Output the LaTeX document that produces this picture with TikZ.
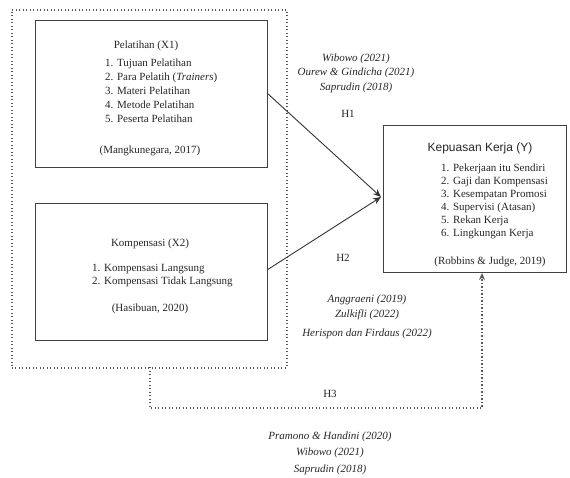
\documentclass[tikz,border=0pt]{standalone}
\usepackage{fontspec}
\setmainfont{Liberation Serif}
\newfontfamily\titlesans{Liberation Sans}
\usetikzlibrary{arrows.meta}
\begin{document}
\begin{tikzpicture}[x=1pt,y=-1pt,
  box/.style={draw=black!75, line width=1pt, inner sep=0pt},
  dotline/.style={draw=black!65, line width=1.5pt, dash pattern=on 1.2pt off 2.3pt},
  txt/.style={font=\fontsize{11}{13.5}\selectfont, inner sep=0pt, text=black!85},
  cite/.style={font=\fontsize{11}{13.5}\selectfont\itshape, inner sep=0pt, text=black!85},
  arr/.style={draw=black!80, line width=0.9pt, -{Stealth[length=8pt,width=6.5pt]}},
]
\useasboundingbox (0,0) rectangle (570,477);
% outer dotted group
\node[dotline, inner sep=0pt, minimum width=275pt, minimum height=358pt, anchor=north west] (grp) at (11,9) {};
% boxes
\node[box, minimum width=232pt, minimum height=147pt, anchor=north west] (x1) at (35,20) {};
\node[box, minimum width=232pt, minimum height=137pt, anchor=north west] (x2) at (35,203) {};
\node[box, minimum width=183pt, minimum height=147pt, anchor=north west] (y) at (383,125) {};
% X1 text
\node[txt, anchor=base] (x1t) at (146,48) {Pelatihan (X1)};
\node[txt, anchor=base west] (x1a) at (105,66) {1. Tujuan Pelatihan};
\node[txt, anchor=base west] (x1b) at (105,80) {2. Para Pelatih (\textit{Trainers})};
\node[txt, anchor=base west] (x1c) at (105,94) {3. Materi Pelatihan};
\node[txt, anchor=base west] (x1d) at (105,108) {4. Metode Pelatihan};
\node[txt, anchor=base west] (x1e) at (105,122) {5. Peserta Pelatihan};
\node[txt, anchor=base] (x1s) at (150,153) {(Mangkunegara, 2017)};
% X2 text
\node[txt, anchor=base] (x2t) at (150,246) {Kompensasi (X2)};
\node[txt, anchor=base west] (x2a) at (92,271) {1. Kompensasi Langsung};
\node[txt, anchor=base west] (x2b) at (92,284) {2. Kompensasi Tidak Langsung};
\node[txt, anchor=base] (x2s) at (150,311) {(Hasibuan, 2020)};
% Y text
\node[txt, font=\titlesans\fontsize{12}{14}\selectfont, anchor=base] (yt) at (480,151) {Kepuasan Kerja (Y)};
\node[txt, anchor=base west] (ya) at (441,171) {1. Pekerjaan itu Sendiri};
\node[txt, anchor=base west] (yb) at (441,184) {2. Gaji dan Kompensasi};
\node[txt, anchor=base west] (yc) at (441,197) {3. Kesempatan Promosi};
\node[txt, anchor=base west] (yd) at (441,210) {4. Supervisi (Atasan)};
\node[txt, anchor=base west] (ye) at (441,223) {5. Rekan Kerja};
\node[txt, anchor=base west] (yf) at (441,236) {6. Lingkungan Kerja};
\node[txt, anchor=base] (ys) at (490,264) {(Robbins \& Judge, 2019)};
% connectors
\coordinate (a1) at (267,93);
\coordinate (a2) at (267,270);
\coordinate (tip) at (381,197);
\draw[arr] (a1) -- (tip);
\draw[arr] (a2) -- (tip);
\coordinate (h3a) at (150,367);
\coordinate (h3b) at (150,408);
\coordinate (h3c) at (482,408);
\draw[dotline, line width=1.3pt, -{Stealth[length=7pt,width=6pt]}] (h3a) -- (h3b) -- (h3c) -- (y.south -| h3c);
% labels H1
\node[cite, anchor=base] (c1) at (356,61) {Wibowo (2021)};
\node[cite, anchor=base] (c2) at (356,75) {Ourew \& Gindicha (2021)};
\node[cite, anchor=base] (c3) at (356,90) {Saprudin (2018)};
\node[txt, anchor=base] (h1) at (348,117) {H1};
% labels H2
\node[txt, anchor=base] (h2) at (343,261) {H2};
\node[cite, anchor=base] (c4) at (367,302) {Anggraeni (2019)};
\node[cite, anchor=base] (c5) at (367,317) {Zulkifli (2022)};
\node[cite, anchor=base] (c6) at (367,336) {Herispon dan Firdaus (2022)};
% labels H3
\node[txt, anchor=base] (h3) at (330,397) {H3};
\node[cite, anchor=base] (c7) at (330,439) {Pramono \& Handini (2020)};
\node[cite, anchor=base] (c8) at (330,455) {Wibowo (2021)};
\node[cite, anchor=base] (c9) at (330,472) {Saprudin (2018)};
\end{tikzpicture}
\end{document}
